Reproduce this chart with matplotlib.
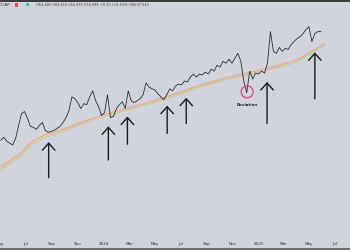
import matplotlib
matplotlib.use("Agg")
import matplotlib.pyplot as plt
import matplotlib.dates as mdates
from matplotlib.patches import Rectangle, Ellipse
import pandas as pd

# ---- data (arbitrary price units) ----
price_start = "2023-05-03"
price_values = [110, 113, 109, 107, 105, 112, 125, 137, 139, 132, 124, 123, 121, 125, 128,
                120, 118, 119, 120, 122, 124, 128, 133, 140, 154, 152, 148, 142, 147, 146,
                154, 160, 150, 144, 135, 138, 156, 133, 134, 142, 146, 149, 142, 160, 150,
                148, 150, 152, 156, 168, 164, 162, 161, 157, 154, 151, 156, 162, 160, 165,
                167, 166, 170, 169, 174, 177, 174, 177, 176, 179, 177, 182, 180, 186, 184,
                190, 188, 192, 188, 193, 198, 190, 170, 158, 180, 172, 178, 177, 180, 178,
                188, 220, 200, 198, 204, 200, 203, 202, 207, 210, 213, 215, 218, 222, 225,
                210, 218, 220, 220]

ma_dates = ["2023-05-03", "2023-06-19", "2023-07-13", "2023-08-17", "2023-10-03", "2023-11-07",
            "2023-12-25", "2024-02-22", "2024-04-20", "2024-06-18", "2024-08-16", "2024-10-14",
            "2024-12-12", "2025-02-09", "2025-03-16", "2025-04-09", "2025-05-02", "2025-06-07"]
ma_fast = [83, 97, 108, 116, 122, 128, 135, 142, 149, 157, 166, 173, 179, 185, 189, 193, 199, 208]
ma_slow = [80, 94, 105, 113, 120, 126, 133, 140, 147, 155, 164, 171, 177, 183, 187, 191, 197, 206]

arrow_dates = ["2023-08-24", "2024-01-12", "2024-02-26", "2024-05-30", "2024-07-14",
               "2025-01-21", "2025-05-14"]
arrow_tips = [108, 124, 134, 145, 153, 169, 199]
arrow_tails = [72, 90, 106, 117, 127, 127, 152]

deviation_date = "2024-12-05"
deviation_value = 159

tick_dates = ["2023-05-01", "2023-07-01", "2023-09-01", "2023-11-01", "2024-01-01", "2024-03-01",
              "2024-05-01", "2024-07-01", "2024-09-01", "2024-11-01", "2025-01-01", "2025-03-01",
              "2025-05-01", "2025-07-01"]
tick_labels = ["May", "Jul", "Sep", "Nov", "2024", "Mar", "May", "Jul", "Sep", "Nov", "2025",
               "Mar", "May", "Jul"]

header_symbol = "DCAP"
header_text = "O64.485 H64.615 L64.475 C64.585 +0.10 (+0.15%) 56637.540"

# ---- figure ----
bg = "#d1d4dc"
fig = plt.figure(figsize=(3.5, 2.5), dpi=100)
fig.patch.set_facecolor(bg)
ax = fig.add_axes([0, 1.2 / 250, 1, 1 - 3.2 / 250])
ax.set_facecolor(bg)

dates = pd.date_range(price_start, periods=len(price_values), freq="7D")
md = pd.to_datetime(ma_dates)

ax.fill_between(md, ma_slow, ma_fast, color="#f3c4a3", alpha=0.8, lw=0, zorder=1)
ax.plot(md, ma_fast, color="#f19a7e", lw=0.6, zorder=2)
ax.plot(md, ma_slow, color="#a9d58e", lw=0.6, zorder=2)
ax.plot(dates, price_values, color="#2e2e2e", lw=0.6, zorder=3)

for d, tip, tail in zip(pd.to_datetime(arrow_dates), arrow_tips, arrow_tails):
    ax.annotate("", xy=(d, tip), xytext=(d, tail),
                arrowprops=dict(arrowstyle="->,head_length=0.5,head_width=0.45",
                                color="#1a1a1a", lw=1.0, mutation_scale=10,
                                shrinkA=0, shrinkB=0), zorder=4)

dd = pd.Timestamp(deviation_date)
ax.add_patch(Ellipse((mdates.date2num(dd), deviation_value), width=12 * 2.356, height=12,
                     fill=False, edgecolor="#e4427a", lw=0.9, zorder=5))
ax.text(dd, deviation_value - 13, "Deviation", fontsize=2.8, color="#222222",
        ha="center", va="center", fontweight="bold")

ax.set_xlim(pd.Timestamp("2023-05-03"), pd.Timestamp("2025-08-05"))
ax.set_ylim(0, 250)
ax.set_yticks([])
ax.set_xticks(pd.to_datetime(tick_dates))
ax.set_xticklabels(tick_labels)
ax.tick_params(axis="x", direction="in", length=0, pad=-5.2, labelsize=3, labelcolor="#333333")
for s in ["top", "left", "right"]:
    ax.spines[s].set_visible(False)
ax.spines["bottom"].set_color("#555555")
ax.spines["bottom"].set_linewidth(1.2)

# top dark strip
fig.patches.append(Rectangle((0, 1 - 2 / 250), 1, 2 / 250, transform=fig.transFigure,
                             facecolor="#3c3c3c", edgecolor="none", zorder=10))
# header
fig.text(-0.005, 1 - 5 / 250, header_symbol, fontsize=3.2, color="#333333", va="center", ha="left")
fig.patches.append(Rectangle((15 / 350, 1 - 6.5 / 250), 3 / 350, 3 / 250, transform=fig.transFigure,
                             facecolor="#e84a4a", edgecolor="none", zorder=10))
fig.text(27 / 350, 1 - 5 / 250, "●", fontsize=2.6, color="#26a69a", va="center", ha="center")
fig.text(36 / 350, 1 - 5 / 250, header_text, fontsize=2.55, color="#444444", va="center", ha="left")

fig.savefig("out.png", dpi=100, facecolor=bg)
